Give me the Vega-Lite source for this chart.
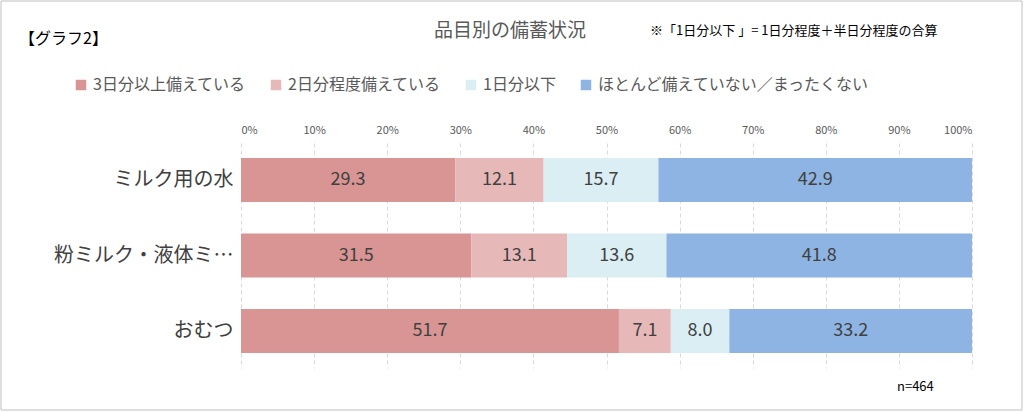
{
  "$schema": "https://vega.github.io/schema/vega-lite/v6.json",
  "autosize": "none",
  "width": 731,
  "height": 225,
  "padding": {"left": 241, "top": 143, "right": 52, "bottom": 44},
  "background": "white",
  "config": {
    "font": "Noto Sans CJK JP",
    "view": {"stroke": null}
  },
  "data": {
    "values": [
      {"item": "ミルク用の水", "cat": "3日分以上備えている", "k": 1, "v": 29.3},
      {"item": "ミルク用の水", "cat": "2日分程度備えている", "k": 2, "v": 12.1},
      {"item": "ミルク用の水", "cat": "1日分以下", "k": 3, "v": 15.7},
      {"item": "ミルク用の水", "cat": "ほとんど備えていない／まったくない", "k": 4, "v": 42.9},
      {"item": "粉ミルク・液体ミルク", "cat": "3日分以上備えている", "k": 1, "v": 31.5},
      {"item": "粉ミルク・液体ミルク", "cat": "2日分程度備えている", "k": 2, "v": 13.1},
      {"item": "粉ミルク・液体ミルク", "cat": "1日分以下", "k": 3, "v": 13.6},
      {"item": "粉ミルク・液体ミルク", "cat": "ほとんど備えていない／まったくない", "k": 4, "v": 41.8},
      {"item": "おむつ", "cat": "3日分以上備えている", "k": 1, "v": 51.7},
      {"item": "おむつ", "cat": "2日分程度備えている", "k": 2, "v": 7.1},
      {"item": "おむつ", "cat": "1日分以下", "k": 3, "v": 8.0},
      {"item": "おむつ", "cat": "ほとんど備えていない／まったくない", "k": 4, "v": 33.2}
    ]
  },
  "transform": [
    {"stack": "v", "groupby": ["item"], "sort": [{"field": "k"}], "as": ["v0", "v1"]},
    {"calculate": "(datum.v0 + datum.v1) / 2", "as": "mid"}
  ],
  "layer": [
    {
      "mark": {"type": "bar"},
      "encoding": {
        "y": {"field": "item", "type": "nominal", "sort": ["ミルク用の水", "粉ミルク・液体ミルク", "おむつ"],
          "scale": {"paddingInner": 0.42, "paddingOuter": 0.2},
          "axis": {"title": null, "labelFontSize": 20, "labelColor": "#404040", "ticks": false, "domain": false, "labelPadding": 8}},
        "x": {"field": "v0", "type": "quantitative", "scale": {"domain": [0, 100], "nice": false},
          "axis": {"orient": "top", "title": null, "values": [0,10,20,30,40,50,60,70,80,90,100], "labelExpr": "datum.value + '%'",
            "labelFontSize": 11, "labelColor": "#595959", "ticks": false, "domain": false, "labelPadding": 8,
            "grid": true, "gridColor": "#d9d9d9", "gridDash": [4, 3]}},
        "x2": {"field": "v1"},
        "color": {"field": "cat", "type": "nominal",
          "scale": {"domain": ["3日分以上備えている", "2日分程度備えている", "1日分以下", "ほとんど備えていない／まったくない"],
            "range": ["#D99594", "#E6B9B8", "#DBEEF4", "#8EB4E3"]},
          "legend": {"title": null, "orient": "none", "direction": "horizontal", "legendX": -168, "legendY": -66,
            "symbolType": "square", "symbolSize": 110, "symbolStrokeWidth": 0, "labelFontSize": 16, "labelColor": "#595959",
            "columnPadding": 22, "labelLimit": 400}}
      }
    },
    {
      "mark": {"type": "text", "fontSize": 18, "color": "#404040"},
      "encoding": {
        "y": {"field": "item", "type": "nominal", "sort": ["ミルク用の水", "粉ミルク・液体ミルク", "おむつ"]},
        "x": {"field": "mid", "type": "quantitative"},
        "text": {"field": "v", "type": "quantitative", "format": ".1f"}
      }
    },
    {
      "data": {"values": [{"t": "品目別の備蓄状況"}]},
      "mark": {"type": "text", "fontSize": 19, "color": "#595959", "x": 269, "y": -112},
      "encoding": {"text": {"field": "t"}}
    },
    {
      "data": {"values": [{"t": "【グラフ2】"}]},
      "mark": {"type": "text", "fontSize": 16, "color": "#000000", "align": "left", "x": -222, "y": -104},
      "encoding": {"text": {"field": "t"}}
    },
    {
      "data": {"values": [{"t": "※「1日分以下 」= 1日分程度＋半日分程度の合算"}]},
      "mark": {"type": "text", "fontSize": 13, "color": "#000000", "align": "left", "x": 409, "y": -112},
      "encoding": {"text": {"field": "t"}}
    },
    {
      "data": {"values": [{"t": "n=464"}]},
      "mark": {"type": "text", "fontSize": 13, "color": "#000000", "align": "left", "x": 656, "y": 244},
      "encoding": {"text": {"field": "t"}}
    },
    {
      "data": {"values": [{"t": 1}]},
      "mark": {"type": "rect", "fill": null, "stroke": "#bfbfbf", "strokeWidth": 1, "x": -240, "x2": 781, "y": -142, "y2": 267},
      "encoding": {}
    }
  ]
}
